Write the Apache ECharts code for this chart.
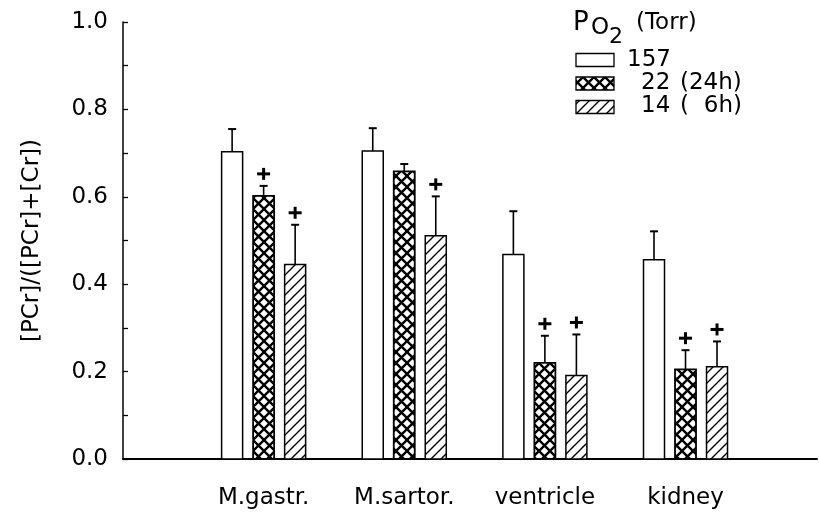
<!DOCTYPE html>
<html><head><meta charset="utf-8">
<script src="https://cdn.jsdelivr.net/npm/echarts@6/dist/echarts.min.js"></script>
<style>html,body{margin:0;padding:0;background:#fff}#c{width:819px;height:513px}</style>
</head><body><div id="c"></div>
<script>
// ---- data ----
const categories = ['M.gastr.', 'M.sartor.', 'ventricle', 'kidney'];
const seriesNames = ['157', '22 (24h)', '14 ( 6h)'];
const mean157 = [0.703, 0.705, 0.468, 0.456];
const sd157   = [0.052, 0.052, 0.099, 0.065];
const mean22  = [0.602, 0.658, 0.220, 0.205];
const sd22    = [0.023, 0.017, 0.062, 0.044];
const mean14  = [0.445, 0.511, 0.191, 0.211];
const sd14    = [0.091, 0.090, 0.094, 0.058];
const sig157  = [0, 0, 0, 0];
const sig22   = [1, 0, 1, 1];
const sig14   = [1, 1, 1, 1];
const yTickLabels = ['0.0', '0.2', '0.4', '0.6', '0.8', '1.0'];
const yTitle = '[PCr]/([PCr]+[Cr])';

const FONT = 'DejaVu Sans';

function crossPattern() {
  const s = 11, c = document.createElement('canvas');
  c.width = s; c.height = s;
  const g = c.getContext('2d');
  g.fillStyle = '#fff'; g.fillRect(0, 0, s, s);
  g.strokeStyle = '#000'; g.lineWidth = 2.4;
  g.beginPath();
  g.moveTo(-1, -1); g.lineTo(s + 1, s + 1);
  g.moveTo(s + 1, -1); g.lineTo(-1, s + 1);
  g.stroke();
  return c;
}
function hatchPattern() {
  const s = 10, c = document.createElement('canvas');
  c.width = s; c.height = s;
  const g = c.getContext('2d');
  g.fillStyle = '#fff'; g.fillRect(0, 0, s, s);
  g.strokeStyle = '#000'; g.lineWidth = 1.4;
  g.beginPath();
  g.moveTo(0, s); g.lineTo(s, 0);
  g.moveTo(-2, 2); g.lineTo(2, -2);
  g.moveTo(s - 2, s + 2); g.lineTo(s + 2, s - 2);
  g.stroke();
  return c;
}
const fills = [
  '#ffffff',
  { image: crossPattern(), repeat: 'repeat' },
  { image: hatchPattern(), repeat: 'repeat' }
];

const BAR_FRAC = 21 / 140.6;   // bar width relative to category step
const STEP_FRAC = 31.5 / 140.6; // offset between bars in a group

function makeSeries(k, means, sds, sigs) {
  return {
    type: 'custom',
    name: seriesNames[k],
    data: means.map((m, i) => [i, m, sds[i], sigs[i]]),
    encode: { x: 0, y: 1 },
    clip: false,
    renderItem: function (params, api) {
      const xi = api.value(0), m = api.value(1), sd = api.value(2), sg = api.value(3);
      const unit = api.size([1, 0])[0];
      const bw = unit * BAR_FRAC;
      const off = (k - 1) * unit * STEP_FRAC;
      const top = api.coord([xi, m]);
      const base = api.coord([xi, 0]);
      const et = api.coord([xi, m + sd]);
      const cx = top[0] + off;
      const children = [
        { type: 'line', shape: { x1: cx, y1: top[1], x2: cx, y2: et[1] }, style: { stroke: '#000', lineWidth: 1.6 } },
        { type: 'line', shape: { x1: cx - 4, y1: et[1], x2: cx + 4, y2: et[1] }, style: { stroke: '#000', lineWidth: 2 } },
        { type: 'rect', shape: { x: cx - bw / 2, y: top[1], width: bw, height: base[1] - top[1] },
          style: { fill: fills[k], stroke: '#000', lineWidth: k === 1 ? 1.8 : 1.5 } }
      ];
      if (sg) {
        const py = et[1] - 12;
        children.push({ type: 'rect', shape: { x: cx - 6.5, y: py - 1.5, width: 13, height: 3 }, style: { fill: '#000' } });
        children.push({ type: 'rect', shape: { x: cx - 1.5, y: py - 6, width: 3, height: 12 }, style: { fill: '#000' } });
      }
      return { type: 'group', children: children };
    }
  };
}

function txt(x, y, text, size, align) {
  return { type: 'text', x: x, y: y, style: { text: text, font: size + 'px "' + FONT + '"', fill: '#000', textAlign: align || 'left', textVerticalAlign: 'middle' } };
}
function box(x, y, w, h, fill) {
  return { type: 'rect', shape: { x: x, y: y, width: w, height: h }, style: { fill: fill, stroke: '#000', lineWidth: 1.3 } };
}

const chart = echarts.init(document.getElementById('c'), null, { renderer: 'canvas' });
chart.setOption({
  animation: false,
  backgroundColor: '#fff',
  grid: { left: 123, right: 2, top: 22, bottom: 54 },
  xAxis: {
    type: 'value', min: -1, max: 3.935, interval: 1,
    axisLine: { show: true, onZero: false, lineStyle: { color: '#000', width: 2 } },
    axisTick: { show: false },
    splitLine: { show: false },
    axisLabel: {
      color: '#000', fontFamily: FONT, fontSize: 23, margin: 28,
      showMaxLabel: false, showMinLabel: false,
      formatter: v => (Number.isInteger(v) && v >= 0 && v < categories.length) ? categories[v] : ''
    }
  },
  yAxis: {
    type: 'value', min: 0, max: 1, interval: 0.2,
    name: yTitle, nameLocation: 'middle', nameGap: 79,
    nameTextStyle: { color: '#000', fontFamily: FONT, fontSize: 23 },
    axisLine: { show: true, onZero: false, lineStyle: { color: '#000', width: 1.5 } },
    axisTick: { show: true, inside: true, length: 5, lineStyle: { color: '#000', width: 1.3 } },
    minorTick: { show: true, splitNumber: 2, length: 5, lineStyle: { color: '#000', width: 1.3 } },
    splitLine: { show: false },
    axisLabel: {
      color: '#000', fontFamily: FONT, fontSize: 23, margin: 15,
      formatter: v => yTickLabels[Math.round(v / 0.2)]
    }
  },
  series: [
    makeSeries(0, mean157, sd157, sig157),
    makeSeries(1, mean22, sd22, sig22),
    makeSeries(2, mean14, sd14, sig14)
  ],
  graphic: [
    txt(573, 23, 'P', 26),
    txt(591, 28, 'O', 23),
    txt(609, 37, '2', 22),
    txt(636, 23, '(Torr)', 23),
    box(576, 53.5, 38, 13, fills[0]),
    box(576, 77, 38, 13, fills[1]),
    box(576, 100.5, 38, 13, fills[2]),
    txt(627, 60, '157', 23),
    txt(641, 83, '22', 23),
    txt(680, 83, '(24h)', 23),
    txt(641, 106, '14', 23),
    txt(680, 106, '(', 23),
    txt(742, 106, '6h)', 23, 'right')
  ]
});
</script>
</body></html>
